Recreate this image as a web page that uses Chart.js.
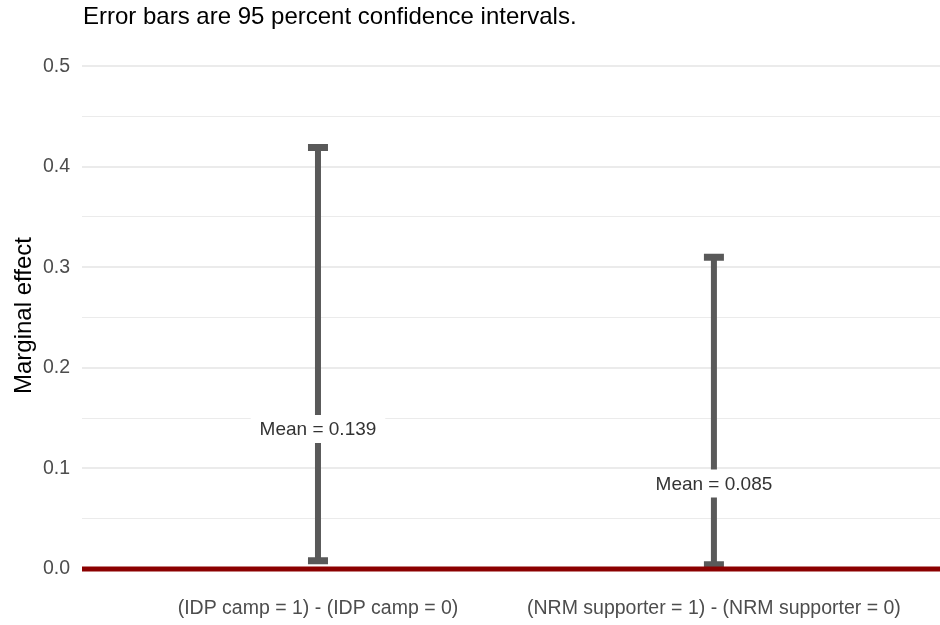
<!DOCTYPE html>
<html>
<head>
<meta charset="utf-8">
<script src="https://cdn.jsdelivr.net/npm/chart.js@4/dist/chart.umd.min.js"></script>
<style>
  html, body { margin: 0; padding: 0; background: #fff; }
  #wrap { width: 940px; height: 625px; position: relative; }
</style>
</head>
<body>
<div id="wrap"><canvas id="chart"></canvas></div>
<script>
const categories = ['(IDP camp = 1) - (IDP camp = 0)', '(NRM supporter = 1) - (NRM supporter = 0)'];
const means = [0.139, 0.085];
const lowerCI = [0.008, 0.004];
const upperCI = [0.419, 0.31];
const yTicks = [0, 0.05, 0.1, 0.15, 0.2, 0.25, 0.3, 0.35, 0.4, 0.45, 0.5];
const titleText = 'Error bars are 95 percent confidence intervals.';

const FONT = "'Liberation Sans', Arial, sans-serif";

// error bars, mean labels, zero line and title
const errorBarPlugin = {
  id: 'errorBars',
  afterDatasetsDraw(chart) {
    const { ctx, chartArea, scales: { x, y } } = chart;
    ctx.save();
    ctx.strokeStyle = '#595959';
    ctx.lineCap = 'butt';
    categories.forEach((cat, i) => {
      const px = x.getPixelForValue(i + 1);
      const top = y.getPixelForValue(upperCI[i]);
      const bot = y.getPixelForValue(lowerCI[i]);
      ctx.lineWidth = 6;
      ctx.beginPath();
      ctx.moveTo(px, top);
      ctx.lineTo(px, bot);
      ctx.stroke();
      ctx.lineWidth = 7;
      ctx.beginPath();
      ctx.moveTo(px - 10, top);
      ctx.lineTo(px + 10, top);
      ctx.moveTo(px - 10, bot);
      ctx.lineTo(px + 10, bot);
      ctx.stroke();
    });

    // mean labels with white boxes
    ctx.font = '19px ' + FONT;
    ctx.textAlign = 'center';
    ctx.textBaseline = 'middle';
    means.forEach((m, i) => {
      const px = x.getPixelForValue(i + 1);
      const py = y.getPixelForValue(m);
      const label = 'Mean = ' + m.toFixed(3);
      const w = ctx.measureText(label).width + 18;
      const h = 28;
      ctx.fillStyle = '#ffffff';
      ctx.beginPath();
      ctx.roundRect(px - w / 2, py - h / 2, w, h, 4);
      ctx.fill();
      ctx.fillStyle = '#333333';
      ctx.fillText(label, px, py + 1);
    });

    // zero reference line
    const y0 = y.getPixelForValue(0);
    ctx.strokeStyle = '#8B0000';
    ctx.lineWidth = 5;
    ctx.beginPath();
    ctx.moveTo(chartArea.left, y0);
    ctx.lineTo(chartArea.right, y0);
    ctx.stroke();

    // title, aligned with the panel
    ctx.fillStyle = '#000000';
    ctx.font = '24px ' + FONT;
    ctx.textAlign = 'left';
    ctx.textBaseline = 'alphabetic';
    ctx.fillText(titleText, chartArea.left + 1, 24);
    ctx.restore();
  }
};

new Chart(document.getElementById('chart'), {
  type: 'scatter',
  data: {
    datasets: [{
      data: means.map((m, i) => ({ x: i + 1, y: m })),
      pointRadius: 0,
      pointHoverRadius: 0
    }]
  },
  options: {
    responsive: true,
    maintainAspectRatio: false,
    animation: false,
    layout: { padding: { top: 41, left: 0, right: 0, bottom: 0 } },
    plugins: {
      legend: { display: false },
      tooltip: { enabled: false },
      title: { display: false }
    },
    scales: {
      x: {
        type: 'linear',
        min: 0.404,
        max: 2.571,
        border: { display: false },
        grid: { display: false, drawTicks: false },
        afterBuildTicks: (scale) => { scale.ticks = categories.map((c, i) => ({ value: i + 1 })); },
        afterFit: (scale) => { scale.height = 35; },
        ticks: {
          padding: 7,
          maxRotation: 0,
          autoSkip: false,
          color: '#4D4D4D',
          font: { family: FONT, size: 19.5 },
          callback: (value) => categories[Math.round(value) - 1]
        }
      },
      y: {
        min: -0.021,
        max: 0.525,
        border: { display: false },
        afterBuildTicks: (scale) => { scale.ticks = yTicks.map(v => ({ value: v })); },
        afterFit: (scale) => { scale.width = 82; },
        grid: {
          drawTicks: false,
          color: '#EBEBEB',
          lineWidth: (ctx) => {
            const v = ctx.tick ? ctx.tick.value : 0;
            return Math.abs(Math.round(v * 10) - v * 10) < 1e-6 ? 2 : 1;
          }
        },
        ticks: {
          padding: 12,
          color: '#4D4D4D',
          font: { family: FONT, size: 19.5 },
          callback: (value) => Math.abs(Math.round(value * 10) - value * 10) < 1e-6 ? value.toFixed(1) : ''
        },
        title: {
          display: true,
          text: 'Marginal effect',
          color: '#000000',
          font: { family: FONT, size: 24 },
          padding: { top: 10, bottom: 0 }
        }
      }
    }
  },
  plugins: [errorBarPlugin]
});
</script>
</body>
</html>
